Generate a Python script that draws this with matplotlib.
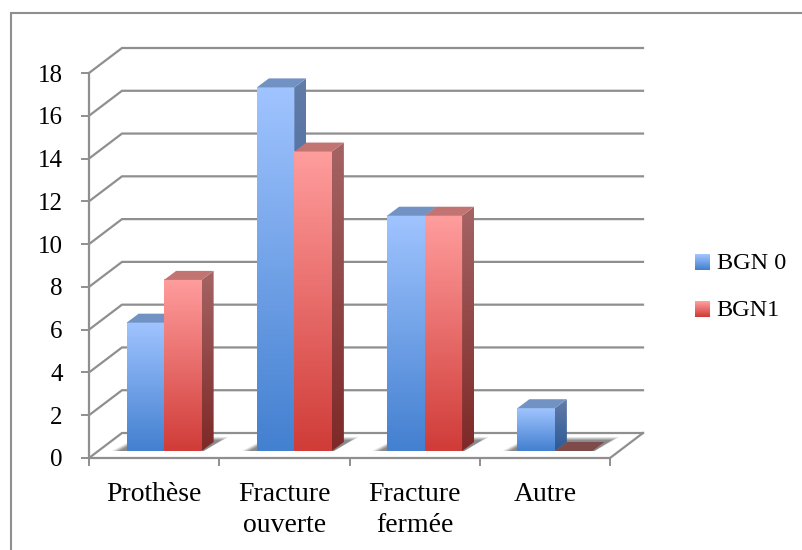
import matplotlib
matplotlib.use("Agg")
import matplotlib.pyplot as plt
import numpy as np
from matplotlib.colors import LinearSegmentedColormap, to_rgb
from matplotlib.legend_handler import HandlerBase
from matplotlib.patches import Patch, Polygon, Rectangle

categories = ["Prothèse", "Fracture\nouverte", "Fracture\nfermée", "Autre"]
bgn0 = [6, 17, 11, 2]
bgn1 = [8, 14, 11, 0]
series_names = ["BGN 0", "BGN1"]
y_ticks = list(range(0, 20, 2))

W, H = 803, 550
GREY = "#8f8f8f"
plt.rcParams["font.family"] = ["Liberation Serif", "DejaVu Serif"]

# colours: front top, front bottom, side top, side bottom, top face
blue = ["#a0c4ff", "#4380d0", "#637ca8", "#2c5a96", "#7192c2"]
red = ["#ff9d9d", "#d03c38", "#a56464", "#7d2927", "#c27473"]

fig = plt.figure(figsize=(W / 100, H / 100), dpi=100)
# front plane of the fake 3d box
left, right, top, bottom = 89, 610, 73, 458
ax = fig.add_axes([left / W, 1 - bottom / H, (right - left) / W, (bottom - top) / H])
ax.patch.set_alpha(0)

px_x = 4 / (right - left)  # data units per pixel
px_y = 18 / (bottom - top)

depth_x, depth_y = 33 * px_x, 25 * px_y
bar_w = 37.5 * px_x
front_x, front_y = 10 * px_x, 7 * px_y  # where the bars stand inside the box
side_x, side_y = 12 * px_x, 9 * px_y  # bar thickness


def gradient(c1, c2):
    return LinearSegmentedColormap.from_list("g", [c2, c1])


def draw_bar(x0, value, cols, z):
    x1 = x0 + bar_w
    y0 = front_y
    y1 = y0 + value
    if value == 0:
        ax.add_patch(Polygon([(x0, y0), (x1, y0), (x1 + side_x, y0 + side_y), (x0 + side_x, y0 + side_y)],
                             fc="#7f4a4a", ec="none", zorder=z, clip_on=False))
        return
    grad = np.linspace(0, 1, 128).reshape(-1, 1)
    ax.imshow(grad, origin="lower", extent=(x0, x1, y0, y1), aspect="auto",
              cmap=gradient(cols[0], cols[1]), zorder=z, clip_on=False)
    # right side face
    side = Polygon([(x1, y0), (x1 + side_x, y0 + side_y), (x1 + side_x, y1 + side_y), (x1, y1)],
                   transform=ax.transData, fc="none", ec="none")
    ax.add_patch(side)
    im = ax.imshow(grad, origin="lower", extent=(x1, x1 + side_x, y0, y1 + side_y), aspect="auto",
                   cmap=gradient(cols[2], cols[3]), zorder=z)
    im.set_clip_path(side)
    ax.add_patch(Polygon([(x0, y1), (x1, y1), (x1 + side_x, y1 + side_y), (x0 + side_x, y1 + side_y)],
                         fc=cols[4], ec="none", zorder=z, clip_on=False))


# gridlines on the back wall and the left wall
for v in y_ticks:
    ax.plot([-0.5, -0.5 + depth_x, 3.5 + depth_x], [v, v + depth_y, v + depth_y],
            color=GREY, lw=1.6, clip_on=False, zorder=1, solid_joinstyle="miter")
# floor edge on the right
ax.plot([3.5, 3.5 + depth_x], [0, depth_y], color=GREY, lw=1.6, clip_on=False, zorder=1)

for i in range(len(categories)):
    x_left = i - 0.5 + (130.25 * px_x - 2 * bar_w) / 2 + front_x
    # soft shadow on the floor
    sx0, sx1 = x_left, x_left + 2 * bar_w
    for spread, alpha in zip([15, 13, 11, 9, 7], [0.12, 0.18, 0.22, 0.25, 0.25]):
        ax.add_patch(Polygon([(sx0 - spread * px_x, front_y), (sx1 + 2 * px_x, front_y),
                              (sx1 + (12 + spread) * px_x, front_y + (8 + 0.4 * spread) * px_y),
                              (sx0 + 12 * px_x, front_y + (8 + 0.4 * spread) * px_y)],
                             fc="#555555", ec="none", alpha=alpha, zorder=1.5, clip_on=False))
    draw_bar(x_left, bgn0[i], blue, 2 + i * 0.1)
    draw_bar(x_left + bar_w, bgn1[i], red, 2.05 + i * 0.1)

ax.set_xlim(-0.5, 3.5)
ax.set_ylim(0, 18)

for s in ["top", "right"]:
    ax.spines[s].set_visible(False)
for s in ["left", "bottom"]:
    ax.spines[s].set_color(GREY)
    ax.spines[s].set_linewidth(1.6)
    ax.spines[s].set_zorder(3)

ax.set_yticks(y_ticks)
ax.tick_params(axis="y", length=6, width=1.4, color=GREY, pad=13, labelsize=18)
ax.set_xticks(np.arange(-0.5, 4, 1))
ax.set_xticklabels([])
ax.set_xticks(np.arange(4), categories, minor=True)
ax.tick_params(axis="x", which="major", length=6, width=1.4, color=GREY)
ax.tick_params(axis="x", which="minor", length=0, pad=17, labelsize=20)
for lab in ax.get_xticklabels(minor=True):
    lab.set_linespacing(1.32)


class GradientHandler(HandlerBase):
    def create_artists(self, legend, orig, xd, yd, width, height, fontsize, trans):
        c1 = np.array(to_rgb(orig.get_facecolor()))
        c2 = np.array(to_rgb(orig.get_edgecolor()))
        n = 16
        out = []
        for k in range(n):
            c = c2 + (c1 - c2) * k / (n - 1)
            out.append(Rectangle((xd, yd + height * k / n), width, height / n * 1.05,
                                 fc=c, ec="none", transform=trans))
        return out


handles = [Patch(fc=blue[0], ec=blue[1], label=series_names[0]),
           Patch(fc=red[0], ec=red[1], label=series_names[1])]
fig.legend(handles=handles, loc="center left", bbox_to_anchor=(695 / W, 1 - 287 / H),
           frameon=False, fontsize=17.5, handlelength=0.62, handleheight=0.62, handletextpad=0.27,
           labelspacing=1.05, borderpad=0, borderaxespad=0,
           handler_map={Patch: GradientHandler()})

# outer frame of the chart area, only its top and left edges are inside the picture
fig.add_artist(Rectangle((11 / W, 1 - (H + 10) / H), (W + 10 - 11) / W, (H + 10 - 13) / H,
                         transform=fig.transFigure, fc="none", ec=GREY, lw=1.5, clip_on=False))

fig.savefig("out.png", dpi=100)
plt.close(fig)
